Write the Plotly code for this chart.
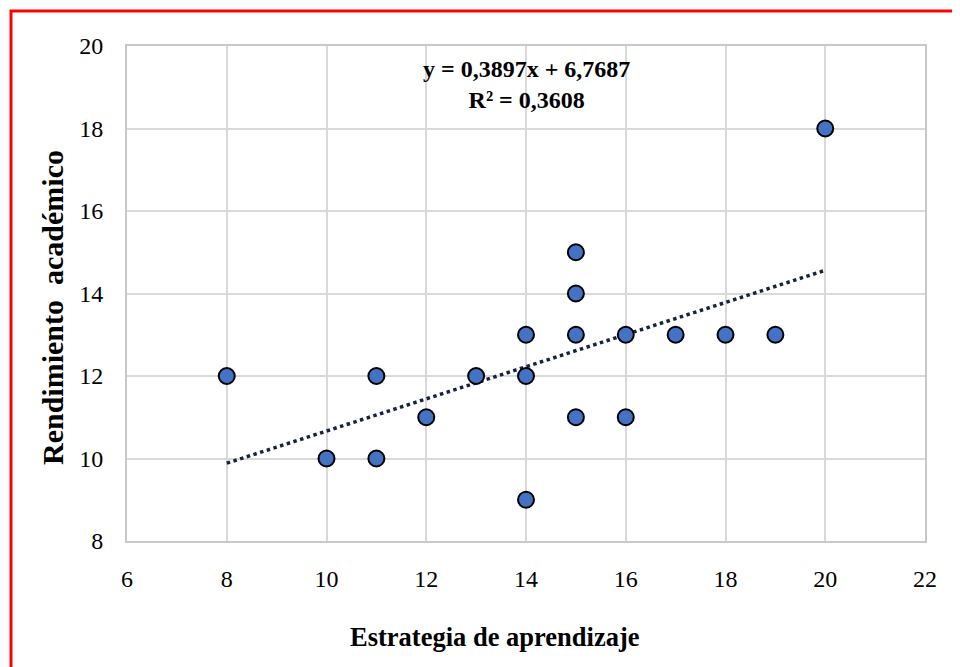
import plotly.graph_objects as go

# Data
estrategia = [8, 10, 11, 11, 12, 13, 14, 14, 14, 15, 15, 15, 15, 16, 16, 17, 18, 19, 20]
rendimiento = [12, 10, 12, 10, 11, 12, 13, 12, 9, 15, 14, 13, 11, 13, 11, 13, 13, 13, 18]

# Trendline equation as printed on the chart
slope = 0.3897
intercept = 6.7687
r2 = 0.3608
trend_x = [min(estrategia), max(estrategia)]
trend_y = [slope * v + intercept for v in trend_x]

x_ticks = [6, 8, 10, 12, 14, 16, 18, 20, 22]
y_ticks = [8, 10, 12, 14, 16, 18, 20]

FONT = "Liberation Serif, Times New Roman, serif"
GRID = "#d9d9d9"

fig = go.Figure()
fig.add_trace(go.Scatter(
    x=trend_x, y=trend_y, mode="lines",
    line=dict(color="#16233f", width=3.5, dash="dot"),
    showlegend=False, hoverinfo="skip"))
fig.add_trace(go.Scatter(
    x=estrategia, y=rendimiento, mode="markers",
    marker=dict(size=16, color="#4472C4", line=dict(color="#000000", width=2)),
    showlegend=False))

# screenshot pixel -> paper coordinates (plot area 127..925 x 46..541 on screen)
def px_x(p):
    return (p - 127) / 798.0

def px_y(p):
    return (541 - p) / 495.0

fig.update_layout(
    width=952, height=659,
    margin=dict(l=119, r=35, t=38, b=126),
    paper_bgcolor="white", plot_bgcolor="white",
    font=dict(family=FONT, color="#000000"),
    xaxis=dict(range=[6, 22], tickvals=x_ticks, showgrid=True, gridcolor=GRID, gridwidth=1.5,
               zeroline=False, showline=True, linecolor="#c8c8c8", linewidth=2, mirror=True,
               ticks="", tickfont=dict(size=24, family=FONT), ticklabelstandoff=15),
    yaxis=dict(range=[8, 20], tickvals=y_ticks, showgrid=True, gridcolor=GRID, gridwidth=1.5,
               zeroline=False, showline=True, linecolor="#c8c8c8", linewidth=2, mirror=True,
               ticks="", tickfont=dict(size=24, family=FONT), ticklabelstandoff=17),
    annotations=[
        dict(text="<b>Estrategia de aprendizaje</b>", x=px_x(495), y=px_y(637),
             xref="paper", yref="paper", showarrow=False, xanchor="center", yanchor="middle",
             font=dict(size=26.5, family=FONT, color="#000000")),
        dict(text="<b>Rendimiento  académico</b>", x=px_x(52), y=px_y(308),
             xref="paper", yref="paper", showarrow=False, xanchor="center", yanchor="middle",
             textangle=-90, font=dict(size=30, family=FONT, color="#000000")),
        dict(text=f"<b>y = {str(slope).replace('.', ',')}x + {str(intercept).replace('.', ',')}</b><br>"
                  f"<b>R² = {str(r2).replace('.', ',')}</b>",
             x=px_x(526), y=px_y(84), xref="paper", yref="paper", showarrow=False,
             xanchor="center", yanchor="middle", align="center",
             font=dict(size=24, family=FONT, color="#000000")),
    ],
    shapes=[
        dict(type="rect", xref="paper", yref="paper",
             x0=px_x(11), x1=px_x(975), y0=px_y(690), y1=px_y(11),
             line=dict(color="#ff0000", width=3), fillcolor="rgba(0,0,0,0)", layer="above"),
    ],
)

fig.write_html("out.html")
